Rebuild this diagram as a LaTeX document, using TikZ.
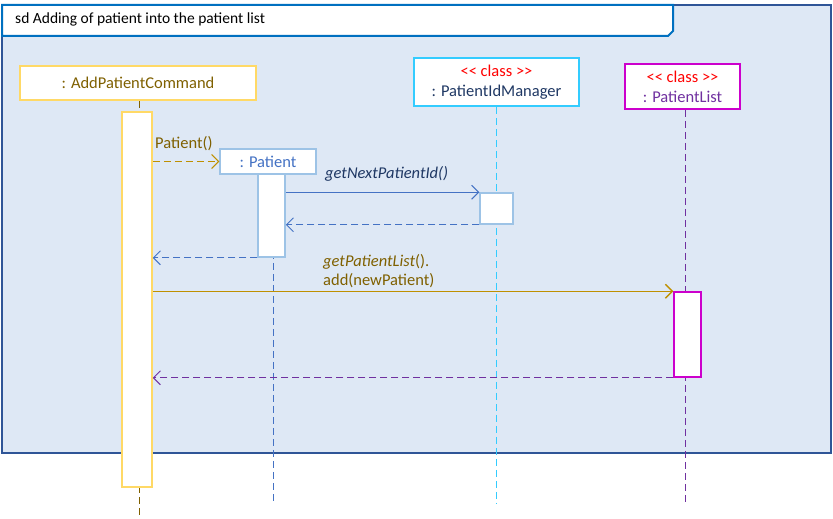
\documentclass[tikz,border=0pt]{standalone}
\usepackage{fontspec}
\setmainfont{Carlito}
\usetikzlibrary{arrows.meta,positioning}
\definecolor{framefill}{HTML}{DEE8F5}
\definecolor{frameline}{HTML}{2F5597}
\definecolor{headline}{HTML}{0070C0}
\definecolor{cmdline}{HTML}{FFD966}
\definecolor{cmdtext}{HTML}{7F6000}
\definecolor{cmdarrow}{HTML}{BF9000}
\definecolor{patline}{HTML}{9DC3E6}
\definecolor{pattext}{HTML}{4472C4}
\definecolor{mgrline}{HTML}{33CCFF}
\definecolor{mgrtext}{HTML}{1F3864}
\definecolor{listline}{HTML}{CC00CC}
\definecolor{listtext}{HTML}{7030A0}
\tikzset{
  objbox/.style={draw, fill=white, line width=1.5pt, inner sep=0pt, align=center, font=\fontsize{16.5}{20}\selectfont},
  actbar/.style={draw, fill=white, line width=1.5pt, inner sep=0pt},
  lifeline/.style={dash pattern=on 7pt off 4pt, line width=0.9pt},
  call/.style={-{Straight Barb[length=7pt,width=14pt]}, line width=1pt},
  reply/.style={call, dash pattern=on 7pt off 4pt},
  msglabel/.style={anchor=west, inner sep=0pt, align=left, font=\fontsize{16.5}{19}\selectfont},
}
\newcommand{\stereo}{\textcolor{red}{\fontsize{16.5}{19}\selectfont <\kern0pt< class >\kern0pt>}}
\begin{document}
\begin{tikzpicture}[x=1pt, y=-1pt]
			\useasboundingbox (0, 0) rectangle (833, 519);
			% frame and heading
			\draw [frameline, line width=2pt, fill=framefill] (2, 5) rectangle (831, 453);
			\draw [headline, line width=2pt, fill=white] (2, 5)--(673, 5)--(673, 31)--(668, 36)--(2, 36)--cycle;
			\node [anchor=west, inner sep=0pt, font=\fontsize{15.5}{18}\selectfont] (title) at (15, 19) {sd Adding of patient into the patient list};
			% objects
			\node [objbox, draw=cmdline, text=cmdtext, minimum width=236pt, minimum height=34pt] (cmd) at (138, 83) {: AddPatientCommand};
			\node [objbox, draw=patline, text=pattext, minimum width=96pt, minimum height=25pt] (pat) at (268, 161.5) {: Patient};
			\node [objbox, draw=mgrline, minimum width=165pt, minimum height=48pt] (mgr) at (496.5, 82) {\stereo\\\textcolor{mgrtext}{: PatientIdManager}};
			\node [objbox, draw=listline, minimum width=115pt, minimum height=45pt] (lst) at (682.5, 86.5) {\stereo\\\textcolor{listtext}{: PatientList}};
			% lifelines
			\coordinate (cmdend) at (139, 519);
			\coordinate (patend) at (273, 503);
			\coordinate (mgrend) at (496, 503);
			\coordinate (lstend) at (685, 505);
			\draw [lifeline, cmdtext] (cmd.south -| cmdend) -- (cmdend);
			\draw [lifeline, pattext] (pat.south -| patend) -- (patend);
			\draw [lifeline, mgrline] (mgr.south -| mgrend) -- (mgrend);
			\draw [lifeline, listtext] (lst.south -| lstend) -- (lstend);
			% activations
			\node [actbar, draw=cmdline, minimum width=30pt, minimum height=375pt] (cmdact) at (137, 299.5) {};
			\node [actbar, draw=patline, minimum width=27pt, minimum height=83pt] (patact) at (271.5, 215.5) {};
			\node [actbar, draw=patline, minimum width=33pt, minimum height=31pt] (mgract) at (496.5, 208.5) {};
			\node [actbar, draw=listline, minimum width=27pt, minimum height=85pt] (lstact) at (687.5, 334.5) {};
			% messages
			\draw [reply, cmdarrow] (cmdact.east |- pat.west) -- (pat.west);
			\node [msglabel, text=cmdtext] (patlbl) at (155, 144) {Patient()};
			\draw [call, pattext] (patact.east |- mgract.north) -- (mgract.north west);
			\node [msglabel, text=mgrtext] (idlbl) at (325, 174) {\textit{getNextPatientId()}};
			\draw [reply, pattext] (mgract.south west) -- (patact.east |- mgract.south);
			\draw [reply, pattext] (patact.south west) -- (cmdact.east |- patact.south);
			\draw [call, cmdarrow, line width=1.3pt] (cmdact.east |- lstact.north) -- (lstact.north west);
			\node [msglabel, text=cmdtext] (addlbl) at (323, 271) {\textit{getPatientList}().\\add(newPatient)};
			\draw [reply, listtext] (lstact.south west) -- (cmdact.east |- lstact.south);
		\end{tikzpicture}
\end{document}
